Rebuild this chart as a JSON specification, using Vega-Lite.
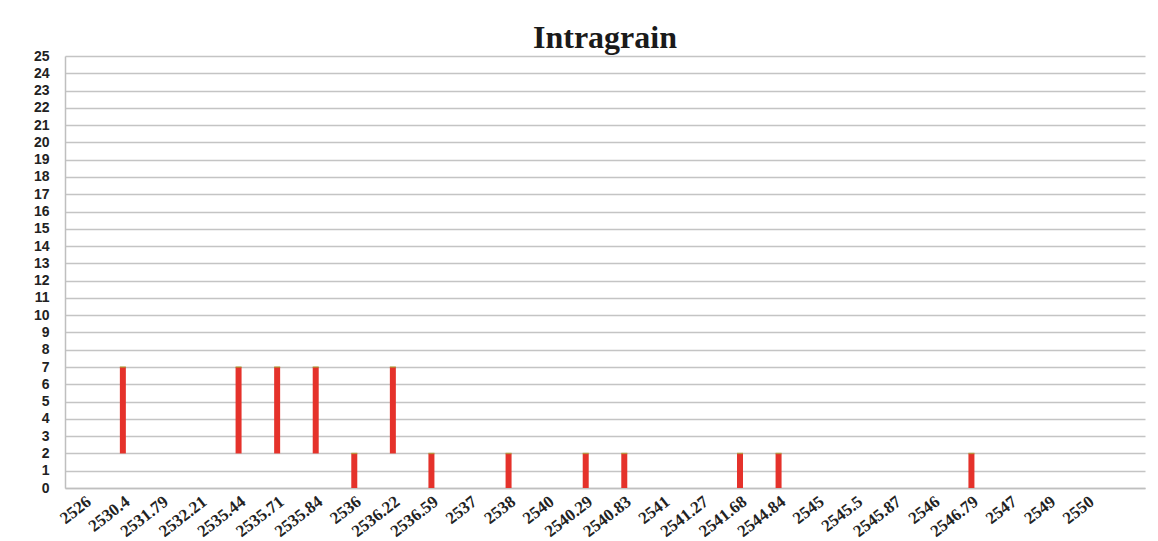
{
  "$schema": "https://vega.github.io/schema/vega-lite/v6.json",
  "width": 1080,
  "height": 432,
  "autosize": {"type": "none"},
  "padding": {"left": 65, "top": 56, "right": 13, "bottom": 53},
  "background": "white",
  "title": {
    "text": "Intragrain",
    "font": "Liberation Serif",
    "fontSize": 32,
    "fontWeight": "bold",
    "color": "#1a1a1a",
    "anchor": "middle",
    "frame": "group",
    "offset": -6
  },
  "data": {
    "values": [
      {"depth": "2530.4", "low": 2, "high": 7},
      {"depth": "2535.44", "low": 2, "high": 7},
      {"depth": "2535.71", "low": 2, "high": 7},
      {"depth": "2535.84", "low": 2, "high": 7},
      {"depth": "2536", "low": 0, "high": 2},
      {"depth": "2536.22", "low": 2, "high": 7},
      {"depth": "2536.59", "low": 0, "high": 2},
      {"depth": "2538", "low": 0, "high": 2},
      {"depth": "2540.29", "low": 0, "high": 2},
      {"depth": "2540.83", "low": 0, "high": 2},
      {"depth": "2541.68", "low": 0, "high": 2},
      {"depth": "2544.84", "low": 0, "high": 2},
      {"depth": "2546.79", "low": 0, "high": 2}
    ]
  },
  "encoding": {
    "x": {
      "field": "depth",
      "type": "nominal",
      "title": null,
      "scale": {
        "domain": ["2526", "2530.4", "2531.79", "2532.21", "2535.44", "2535.71", "2535.84", "2536", "2536.22", "2536.59", "2537", "2538", "2540", "2540.29", "2540.83", "2541", "2541.27", "2541.68", "2544.84", "2545", "2545.5", "2545.87", "2546", "2546.79", "2547", "2549", "2550", " "],
        "paddingInner": 0,
        "paddingOuter": 0
      },
      "axis": {
        "labelAngle": -38,
        "labelAlign": "right",
        "labelBaseline": "top",
        "labelFont": "Liberation Serif",
        "labelFontWeight": "bold",
        "labelFontSize": 17,
        "labelColor": "#222222",
        "labelPadding": 5,
        "labelOverlap": false,
        "ticks": false,
        "domainColor": "#bfbfbf",
        "domainWidth": 1.5,
        "grid": false
      }
    }
  },
  "layer": [
    {
      "mark": {"type": "bar", "color": "#e5322b", "size": 6},
      "encoding": {
        "y": {
          "field": "low",
          "type": "quantitative",
          "title": null,
          "scale": {"domain": [0, 25], "nice": false},
          "axis": {
            "values": [0,1,2,3,4,5,6,7,8,9,10,11,12,13,14,15,16,17,18,19,20,21,22,23,24,25],
            "labelFont": "Liberation Sans",
            "labelFontWeight": "bold",
            "labelFontSize": 14,
            "labelColor": "#222222",
            "labelPadding": 16,
            "labelOverlap": false,
            "labelFlush": false,
            "ticks": false,
            "domainColor": "#bfbfbf",
            "domainWidth": 1.5,
            "grid": true,
            "gridColor": "#c4c4c4",
            "gridWidth": 1.5
          }
        },
        "y2": {"field": "high"}
      }
    },
    {
      "mark": {"type": "tick", "color": "#a89a2a", "thickness": 1.5, "size": 6, "orient": "horizontal"},
      "encoding": {
        "y": {
          "field": "high",
          "type": "quantitative",
          "title": null,
          "scale": {"domain": [0, 25], "nice": false},
          "axis": {
            "values": [0,1,2,3,4,5,6,7,8,9,10,11,12,13,14,15,16,17,18,19,20,21,22,23,24,25],
            "labelFont": "Liberation Sans",
            "labelFontWeight": "bold",
            "labelFontSize": 14,
            "labelColor": "#222222",
            "labelPadding": 16,
            "labelOverlap": false,
            "labelFlush": false,
            "ticks": false,
            "domainColor": "#bfbfbf",
            "domainWidth": 1.5,
            "grid": true,
            "gridColor": "#c4c4c4",
            "gridWidth": 1.5
          }
        }
      }
    }
  ],
  "config": {
    "view": {"stroke": null}
  }
}
